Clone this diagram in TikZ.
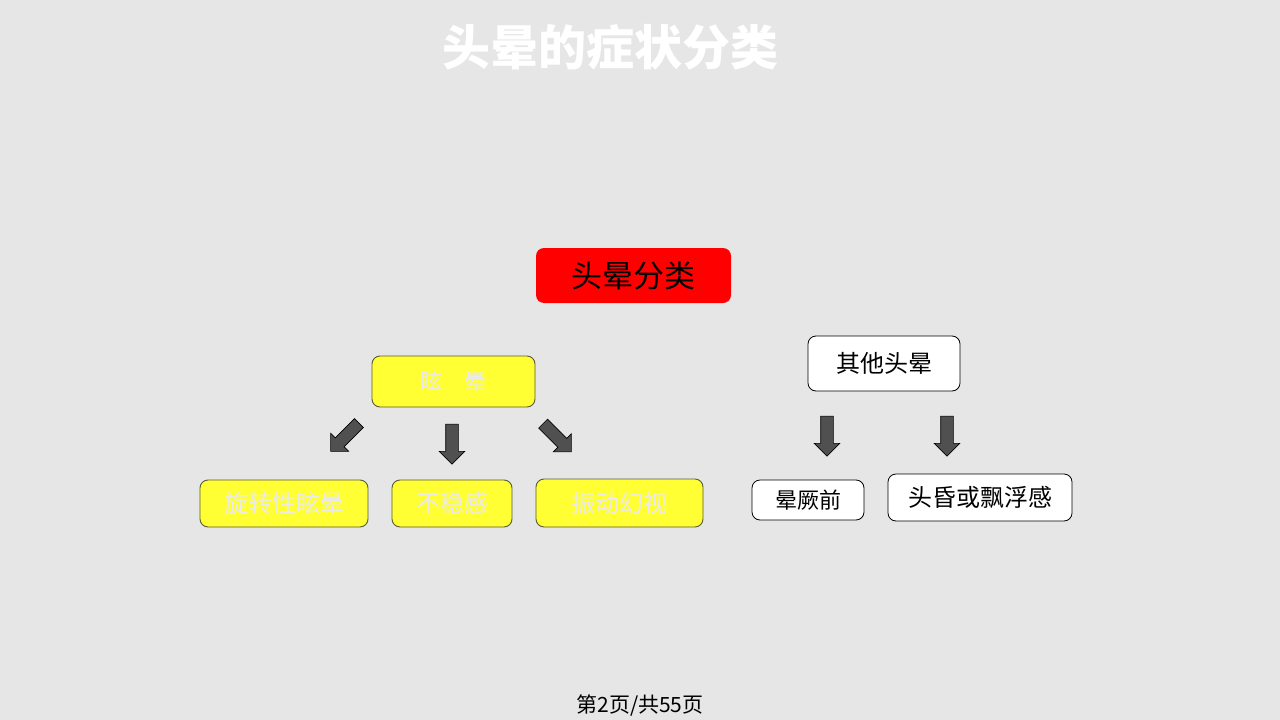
\documentclass[tikz,border=0pt]{standalone}
\usepackage{fontspec}
\newfontfamily\cjk{Noto Sans CJK SC}
\usetikzlibrary{shapes.arrows}
\definecolor{bg}{HTML}{E6E6E6}
\definecolor{ylw}{HTML}{FFFF33}
\definecolor{ytext}{HTML}{EBEBEB}
\definecolor{ybord}{HTML}{5A5A3A}
\definecolor{arrfill}{HTML}{505050}
\tikzset{
  box/.style={rounded corners=8pt, minimum width=#1, inner sep=0pt, align=center},
  ybox/.style={box=#1, fill=ylw, draw=ybord, line width=0.9pt, text=ytext, font=\cjk\fontsize{24}{28}\selectfont},
  wbox/.style={box=#1, fill=white, draw=black, line width=0.8pt, text=black, font=\cjk\fontsize{24}{28}\selectfont},
  barrow/.style={single arrow, draw=black, fill=arrfill, line width=0.6pt, inner sep=6pt,
    single arrow head extend=6.5pt, single arrow head indent=0pt, minimum height=40pt, shape border uses incircle=false}
}
\begin{document}
\begin{tikzpicture}[x=1pt,y=-1pt]
\useasboundingbox[fill=bg] (0,0) rectangle (1280,720);
\node[text=white, font=\cjk\bfseries\fontsize{48}{54}\selectfont] (title) at (610,47) {头晕的症状分类};
\node[box=195pt, minimum height=55pt, fill=red, text=black, font=\cjk\fontsize{31}{36}\selectfont] (root) at (633.5,275.5) {头晕分类};
\node[ybox=163pt, minimum height=51pt, font=\cjk\fontsize{22}{26}\selectfont] (xy) at (453.5,381.5) {眩\hspace{1em}晕};
\node[ybox=168pt, minimum height=47pt] (a1) at (284,503.5) {旋转性眩晕};
\node[ybox=120pt, minimum height=47pt] (a2) at (452,503.5) {不稳感};
\node[ybox=167pt, minimum height=48pt] (a3) at (619.5,503) {振动幻视};
\node[wbox=152pt, minimum height=55pt] (qt) at (884,363.5) {其他头晕};
\node[wbox=112pt, minimum height=40pt, font=\cjk\fontsize{22}{26}\selectfont] (b1) at (808,500) {晕厥前};
\node[wbox=184pt, minimum height=47pt] (b2) at (980,497.5) {头昏或飘浮感};
\node[barrow, rotate=-135] (r1) at (347,435) {};
\node[barrow, rotate=-90] (r2) at (452,441) {};
\node[barrow, rotate=-45] (r3) at (555,435.5) {};
\node[barrow, rotate=-90] (r4) at (827,433) {};
\node[barrow, rotate=-90] (r5) at (947,433) {};
\node[text=black, font=\cjk\fontsize{21}{25}\selectfont] (foot) at (640,705) {第2页/共55页};
\end{tikzpicture}
\end{document}
